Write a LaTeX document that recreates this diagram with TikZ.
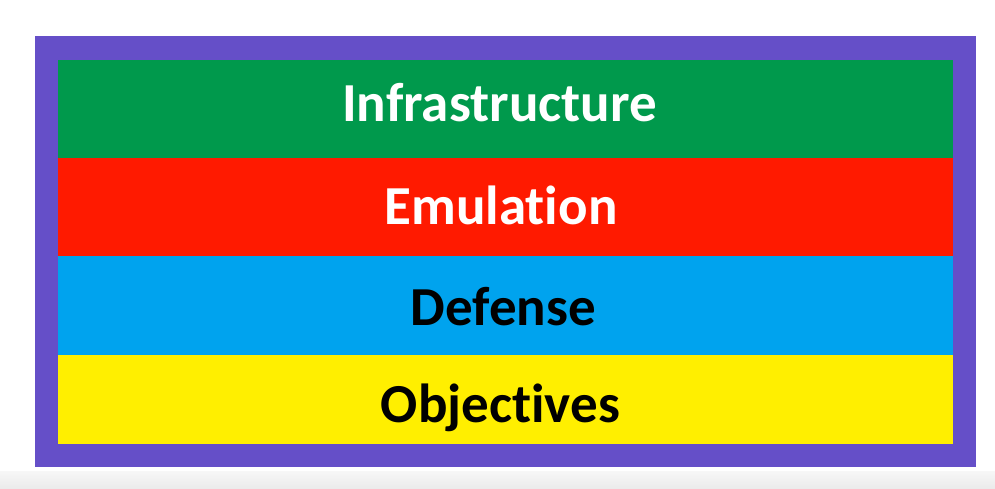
\documentclass[tikz,border=0pt]{standalone}
\usepackage{fontspec}
\setmainfont[Ligatures={NoCommon,NoRequired,NoContextual}]{Carlito}
\definecolor{framepurple}{HTML}{654FC8}
\definecolor{bandgreen}{HTML}{00994C}
\definecolor{bandred}{HTML}{FF1A00}
\definecolor{bandblue}{HTML}{00A3EE}
\definecolor{bandyellow}{HTML}{FFEF00}
\definecolor{stripgray}{HTML}{EBEBEB}
\begin{document}
\begin{tikzpicture}[x=1pt,y=1pt,
  band/.style={font=\bfseries\fontsize{55}{60}\selectfont, anchor=base, inner sep=0pt}]
\useasboundingbox (0,0) rectangle (995,488);
\fill[white] (0,0) rectangle (995,488);
\shade[top color=stripgray!40, bottom color=stripgray] (0,0) rectangle (995,17);
\fill[framepurple] (34.5,21) rectangle (975.5,451.5);
\fill[bandgreen] (58,330) rectangle (952.5,428);
\fill[bandred] (58,232.5) rectangle (952.5,330);
\fill[bandblue] (58,133) rectangle (952.5,232.5);
\fill[bandyellow] (58,44) rectangle (952.5,133);
\node[band, text=white] (infra) at (499.5,366) {Infrastructure};
\node[band, text=white] (emu) at (501,264) {Emulation};
\node[band, text=black] (def) at (503.5,163) {Defense};
\node[band, text=black] (obj) at (500.5,66) {Objectives};
\end{tikzpicture}
\end{document}
